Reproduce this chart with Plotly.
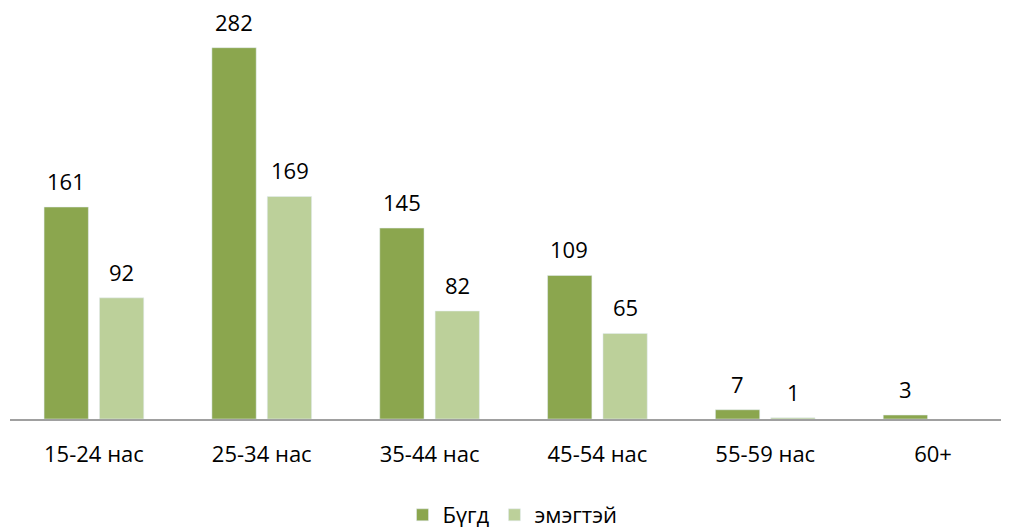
import plotly.graph_objects as go

categories = ["15-24 нас", "25-34 нас", "35-44 нас", "45-54 нас", "55-59 нас", "60+"]
total = [161, 282, 145, 109, 7, 3]
female = [92, 169, 82, 65, 1, None]
names = ["Бүгд", "эмэгтэй"]
colors = ["#8BA64E", "#BCD09A"]

font = "Open Sans"
fs = 22
fig = go.Figure()
fig.add_trace(go.Bar(x=categories, y=total, name=names[0], marker_color=colors[0]))
fig.add_trace(go.Bar(x=categories, y=female, name=names[1], marker_color=colors[1]))

ann = []
for series, shift in ((total, -28), (female, 28)):
    for c, v in zip(categories, series):
        if v is None:
            continue
        ann.append(dict(x=c, y=v, text=str(v), showarrow=False, xshift=shift, yshift=9,
                        yanchor="bottom", font=dict(family=font, size=fs, color="#000")))

fig.update_layout(
    width=1009, height=527,
    margin=dict(l=2, r=0, t=16, b=116, autoexpand=False),
    paper_bgcolor="white", plot_bgcolor="white",
    barmode="group", bargap=0.34, bargroupgap=0.2,
    annotations=ann,
    font=dict(family=font, size=fs, color="#000"),
    legend=dict(orientation="h", x=0.5, xanchor="center", xref="container",
                y=(527 - 507) / 527, yanchor="middle", yref="container",
                font=dict(family=font, size=fs), itemwidth=30),
    showlegend=True,
    xaxis=dict(showline=True, linecolor="#A0A0A0", linewidth=1.5, ticks="",
               tickfont=dict(family=font, size=fs), showgrid=False,
               automargin=False, ticklabelstandoff=15),
    yaxis=dict(range=[0, 300], visible=False, showgrid=False, automargin=False),
)
fig.write_html("out.html")
